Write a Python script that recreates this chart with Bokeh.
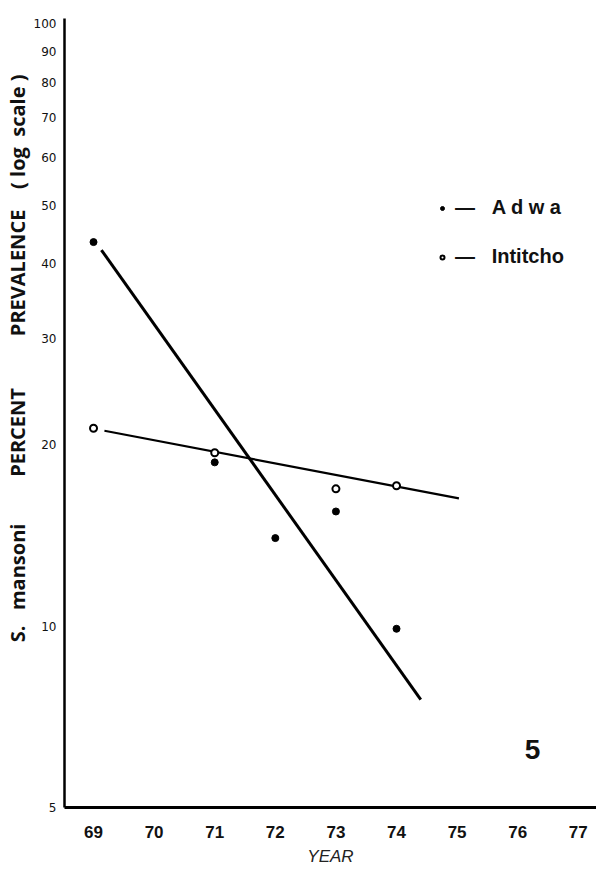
from bokeh.plotting import figure
from bokeh.models import Range1d, FixedTicker, Label, Legend, LegendItem, NumeralTickFormatter
from bokeh.embed import file_html
from bokeh.resources import INLINE

# ---- data ----
years_adwa = [69, 71, 72, 73, 74]
prev_adwa = [43.4, 18.7, 14.0, 15.5, 9.9]
years_intitcho = [69, 71, 73, 74]
prev_intitcho = [21.3, 19.4, 16.9, 17.1]
trend_adwa_x = [69.13, 74.40]
trend_adwa_y = [42.1, 7.55]
trend_intitcho_x = [69.18, 75.03]
trend_intitcho_y = [21.1, 16.3]
x_ticks = [69, 70, 71, 72, 73, 74, 75, 76, 77]
y_ticks = [5, 10, 20, 30, 40, 50, 60, 70, 80, 90, 100]

nb = "\u00a0"
y_title = (nb * 21 + "S." + nb * 3 + "mansoni" + nb * 9 + "PERCENT" + nb * 10
           + "PREVALENCE" + nb * 4 + "(" + nb + "log" + nb * 2 + "scale" + nb + ")")

p = figure(width=596, height=868, y_axis_type="log",
           x_range=Range1d(68.521, 77.300), y_range=Range1d(5, 102),
           output_backend="svg", toolbar_location=None,
           min_border_left=64, min_border_right=0, min_border_top=18, min_border_bottom=0)

p.grid.visible = False
p.outline_line_color = None
p.background_fill_color = "white"

# trend lines
p.line(trend_adwa_x, trend_adwa_y, line_width=3, line_color="black")
p.line(trend_intitcho_x, trend_intitcho_y, line_width=2.2, line_color="black")

# points
r_adwa = p.scatter(years_adwa, prev_adwa, size=7, fill_color="black", line_color="black")
r_int = p.scatter(years_intitcho, prev_intitcho, size=7, fill_color="white",
                  line_color="black", line_width=2)

# x axis
xa = p.xaxis[0]
xa.ticker = FixedTicker(ticks=x_ticks)
xa.major_tick_line_color = None
xa.minor_tick_line_color = None
xa.major_tick_out = 0
xa.major_tick_in = 0
xa.axis_line_width = 3
xa.axis_line_color = "black"
xa.major_label_text_font = "Liberation Sans"
xa.major_label_text_font_size = "17px"
xa.major_label_text_font_style = "bold"
xa.major_label_text_color = "#111111"
xa.major_label_standoff = 18
xa.axis_label = "YEAR"
xa.axis_label_text_font = "Liberation Sans"
xa.axis_label_text_font_style = "italic"
xa.axis_label_text_font_size = "17px"
xa.axis_label_text_color = "#222222"
xa.axis_label_standoff = 6

# y axis
ya = p.yaxis[0]
ya.ticker = FixedTicker(ticks=y_ticks)
ya.formatter = NumeralTickFormatter(format="0")
ya.major_tick_line_color = None
ya.minor_tick_line_color = None
ya.major_tick_out = 0
ya.major_tick_in = 0
ya.axis_line_width = 2.5
ya.axis_line_color = "black"
ya.major_label_text_font = "DejaVu Sans"
ya.major_label_text_font_size = "12px"
ya.major_label_text_color = "#111111"
ya.major_label_standoff = 8
ya.axis_label = y_title
ya.axis_label_text_font = "Open Sans"
ya.axis_label_text_font_style = "bold"
ya.axis_label_text_font_size = "20px"
ya.axis_label_text_color = "#111111"
ya.axis_label_standoff = 0

# legend
legend = Legend(items=[LegendItem(label="\u2014" + nb * 3 + "A d w a", renderers=[r_adwa]),
                       LegendItem(label="\u2014" + nb * 3 + "Intitcho", renderers=[r_int])],
                location=(373, 539), padding=0, margin=0, spacing=26,
                glyph_width=10, glyph_height=20, label_height=20, label_standoff=8,
                border_line_color=None, background_fill_alpha=0)
legend.label_text_font = "Liberation Sans"
legend.label_text_font_size = "20px"
legend.label_text_font_style = "bold"
legend.label_text_color = "#111111"
p.add_layout(legend)

# panel number
p.add_layout(Label(x=468, y=58, x_units="screen", y_units="screen", text="5",
                   text_font="Liberation Sans", text_font_size="28px",
                   text_font_style="bold", text_align="center", text_baseline="middle",
                   text_color="#111111"))

open("out.html", "w").write(file_html(p, INLINE))
